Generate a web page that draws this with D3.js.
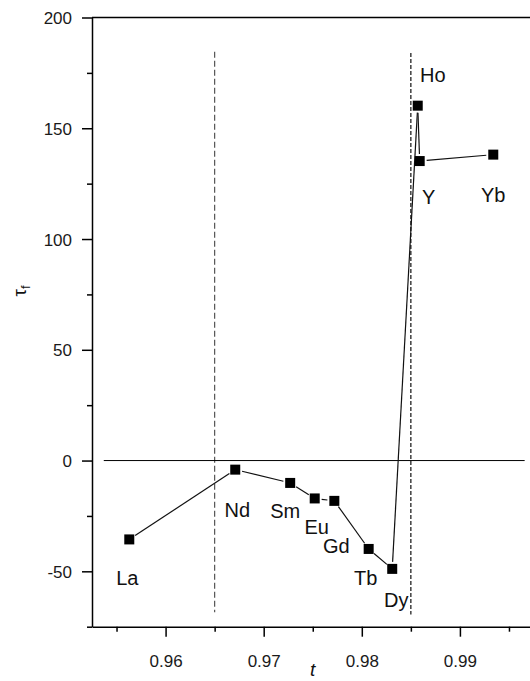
<!DOCTYPE html>
<html>
<head>
<meta charset="utf-8">
<script src="https://cdn.jsdelivr.net/npm/d3@7"></script>
<style>
  html, body { margin: 0; padding: 0; background: #fff; }
  svg { display: block; font-family: "Liberation Sans", Arial, sans-serif; }
  .axis text { font-size: 17px; fill: #1a1a1a; }
  .axis path, .axis line { stroke: #000; stroke-width: 1.5; }
</style>
</head>
<body>
<div id="chart"></div>
<script>
// data
const elements = ["La", "Nd", "Sm", "Eu", "Gd", "Tb", "Dy", "Ho", "Y", "Yb"];
const tValues = [0.9563, 0.9671, 0.9727, 0.9752, 0.9772, 0.9807, 0.9831, 0.9857, 0.9859, 0.9934];
const tauValues = [-35.6, -4.1, -10.1, -17.1, -18.2, -39.9, -48.9, 160.2, 135.2, 138.1];

const xMajorTicks = [0.96, 0.97, 0.98, 0.99];
const xMinorTicks = [0.955, 0.965, 0.975, 0.985, 0.995];
const yMajorTicks = [-50, 0, 50, 100, 150, 200];
const yMinorTicks = [-75, -25, 25, 75, 125, 175];

// reference lines
const zeroLineT = [0.9537, 0.9966];
const boundaryT = [0.965, 0.985];
const boundaryTau = [[184.5, -68.5], [184, -69.5]];

// label placement (pixels from marker centre)
const labelOffsets = {
  La: [-2, 46], Nd: [2, 47], Sm: [-5, 35], Eu: [2, 36], Gd: [2, 52],
  Tb: [-3, 36], Dy: [4, 38], Ho: [15, -24], Y: [9, 43], Yb: [0, 47]
};

const width = 530;
const height = 681;
const margin = { top: 17.5, right: -3.5, bottom: 54.3, left: 92 };

const svg = d3.select("#chart").append("svg")
  .attr("width", width)
  .attr("height", height);

const x = d3.scaleLinear()
  .domain([0.9525, 0.9975])
  .range([margin.left, width - margin.right]);

const y = d3.scaleLinear()
  .domain([-75, 200])
  .range([height - margin.bottom, margin.top]);

const points = elements.map((el, i) => ({ el, t: tValues[i], tau: tauValues[i] }));

// top frame line
svg.append("line")
  .attr("x1", x.range()[0]).attr("x2", x.range()[1])
  .attr("y1", y(200)).attr("y2", y(200))
  .attr("stroke", "#000").attr("stroke-width", 1.5);

// dashed boundaries
const dashes = ["6,3", "4,2"];
const dashColors = ["#555", "#111"];
boundaryT.forEach((t, i) => {
  svg.append("line")
    .attr("x1", x(t)).attr("x2", x(t))
    .attr("y1", y(boundaryTau[i][0])).attr("y2", y(boundaryTau[i][1]))
    .attr("stroke", dashColors[i])
    .attr("stroke-width", 1.2)
    .attr("stroke-dasharray", dashes[i]);
});

// zero line
svg.append("line")
  .attr("x1", x(zeroLineT[0])).attr("x2", x(zeroLineT[1]))
  .attr("y1", y(0)).attr("y2", y(0))
  .attr("stroke", "#000").attr("stroke-width", 1);

// axes
const gx = svg.append("g").attr("class", "axis")
  .attr("transform", `translate(0,${y(-75)})`);
gx.call(d3.axisBottom(x).tickValues(xMinorTicks).tickSize(5).tickSizeOuter(0).tickFormat(""));
gx.append("g").call(d3.axisBottom(x).tickValues(xMajorTicks).tickSize(10).tickSizeOuter(0)
  .tickPadding(18).tickFormat(d3.format(".2f")))
  .select(".domain").remove();

const gy = svg.append("g").attr("class", "axis")
  .attr("transform", `translate(${x(0.9525)},0)`);
gy.call(d3.axisLeft(y).tickValues(yMinorTicks).tickSize(5).tickSizeOuter(0).tickFormat(""));
gy.append("g").call(d3.axisLeft(y).tickValues(yMajorTicks).tickSize(10).tickSizeOuter(0)
  .tickPadding(10).tickFormat((d) => String(d)))
  .select(".domain").remove();
gy.selectAll("text").attr("dy", "0.36em");

// connecting segments with small gaps at the markers
const gap = 7;
const segs = d3.pairs(points).map(([a, b]) => {
  const x1 = x(a.t), y1 = y(a.tau), x2 = x(b.t), y2 = y(b.tau);
  const len = Math.hypot(x2 - x1, y2 - y1);
  const ux = (x2 - x1) / len, uy = (y2 - y1) / len;
  return { x1: x1 + ux * gap, y1: y1 + uy * gap, x2: x2 - ux * gap, y2: y2 - uy * gap };
});

svg.append("g").selectAll("line")
  .data(segs)
  .enter()
  .append("line")
  .attr("x1", (d) => d.x1).attr("y1", (d) => d.y1)
  .attr("x2", (d) => d.x2).attr("y2", (d) => d.y2)
  .attr("stroke", "#111")
  .attr("stroke-width", 1.2);

// markers
const ms = 10;
svg.append("g").selectAll("rect")
  .data(points)
  .enter()
  .append("rect")
  .attr("x", (d) => x(d.t) - ms / 2)
  .attr("y", (d) => y(d.tau) - ms / 2)
  .attr("width", ms)
  .attr("height", ms)
  .attr("fill", "#000");

// element labels
svg.append("g").selectAll("text")
  .data(points)
  .enter()
  .append("text")
  .attr("x", (d) => x(d.t) + labelOffsets[d.el][0])
  .attr("y", (d) => y(d.tau) + labelOffsets[d.el][1])
  .attr("text-anchor", "middle")
  .attr("font-size", 20)
  .attr("fill", "#111")
  .text((d) => d.el);

// axis titles
svg.append("text")
  .attr("x", x(0.975))
  .attr("y", 676)
  .attr("text-anchor", "middle")
  .attr("font-size", 19)
  .attr("font-style", "italic")
  .attr("fill", "#111")
  .text("t");

const yt = svg.append("text")
  .attr("transform", "translate(26,291) rotate(-90)")
  .attr("text-anchor", "middle")
  .attr("font-size", 19)
  .attr("fill", "#111");
yt.append("tspan").text("τ");
yt.append("tspan").attr("font-size", 13).attr("dy", "0.3em").text("f");
</script>
</body>
</html>
